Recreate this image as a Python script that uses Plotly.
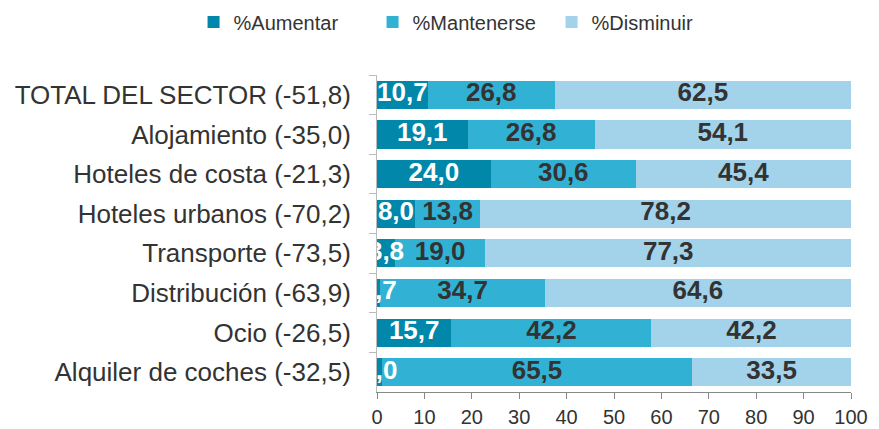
import plotly.graph_objects as go

categories = ["TOTAL DEL SECTOR (-51,8)", "Alojamiento (-35,0)", "Hoteles de costa (-21,3)",
              "Hoteles urbanos (-70,2)", "Transporte (-73,5)", "Distribución (-63,9)",
              "Ocio (-26,5)", "Alquiler de coches (-32,5)"]
aumentar = [10.7, 19.1, 24.0, 8.0, 3.8, 0.7, 15.7, 1.0]
mantenerse = [26.8, 26.8, 30.6, 13.8, 19.0, 34.7, 42.2, 65.5]
disminuir = [62.5, 54.1, 45.4, 78.2, 77.3, 64.6, 42.2, 33.5]
series_names = ["%Aumentar", "%Mantenerse", "%Disminuir"]
colors = ["#0087AA", "#31B2D5", "#A2D3EA"]
text_colors = ["#FFFFFF", "#333333", "#333333"]
tick_vals = list(range(0, 101, 10))

FONT = "Liberation Sans, Arial, sans-serif"


def fmt(v):
    return f"{v:.1f}".replace(".", ",")


fig = go.Figure()
series = [aumentar, mantenerse, disminuir]
for name, vals, col in zip(series_names, series, colors):
    fig.add_trace(go.Bar(y=categories, x=vals, name=name, orientation="h",
                         marker=dict(color=col, line=dict(width=0)),
                         hoverinfo="skip"))

# labels centred in each segment (clipped by the plot area like the original)
base = [0.0] * len(categories)
for vals, tc in zip(series, text_colors):
    mids = [b + v / 2 for b, v in zip(base, vals)]
    fig.add_trace(go.Scatter(y=categories, x=mids, mode="text",
                             text=["<b>" + fmt(v) + "</b>" for v in vals],
                             textposition="middle center",
                             textfont=dict(family=FONT, size=26, color=tc),
                             showlegend=False, cliponaxis=True, hoverinfo="skip"))
    base = [b + v for b, v in zip(base, vals)]

# page has an 8px body margin, so the figure is 8px smaller than the window
fig.update_layout(
    barmode="stack",
    bargap=0.29,
    width=871, height=421,
    margin=dict(l=369, r=28, t=67, b=37, autoexpand=False),
    paper_bgcolor="white", plot_bgcolor="white",
    font=dict(family=FONT, color="#333333"),
    legend=dict(orientation="h", x=-0.387, xanchor="left", y=1.167, yanchor="middle",
                font=dict(size=20, color="#333333"), entrywidth=134,
                traceorder="normal", itemsizing="constant"),
    xaxis=dict(range=[0, 100], tickvals=tick_vals, ticks="outside", ticklen=6,
               tickcolor="#888888", showline=True, linecolor="#888888", linewidth=1,
               showgrid=False, zeroline=False, tickfont=dict(size=20, color="#333333"),
               ticklabelstandoff=1, automargin=False, fixedrange=True),
    yaxis=dict(autorange="reversed", showline=True, linecolor="#BBBBBB", linewidth=1,
               ticks="outside", tickson="boundaries", ticklen=7, tickcolor="#BBBBBB",
               showgrid=False, tickfont=dict(size=26, color="#333333"),
               ticklabelstandoff=20, automargin=False, fixedrange=True),
)

fig.write_html("out.html")
